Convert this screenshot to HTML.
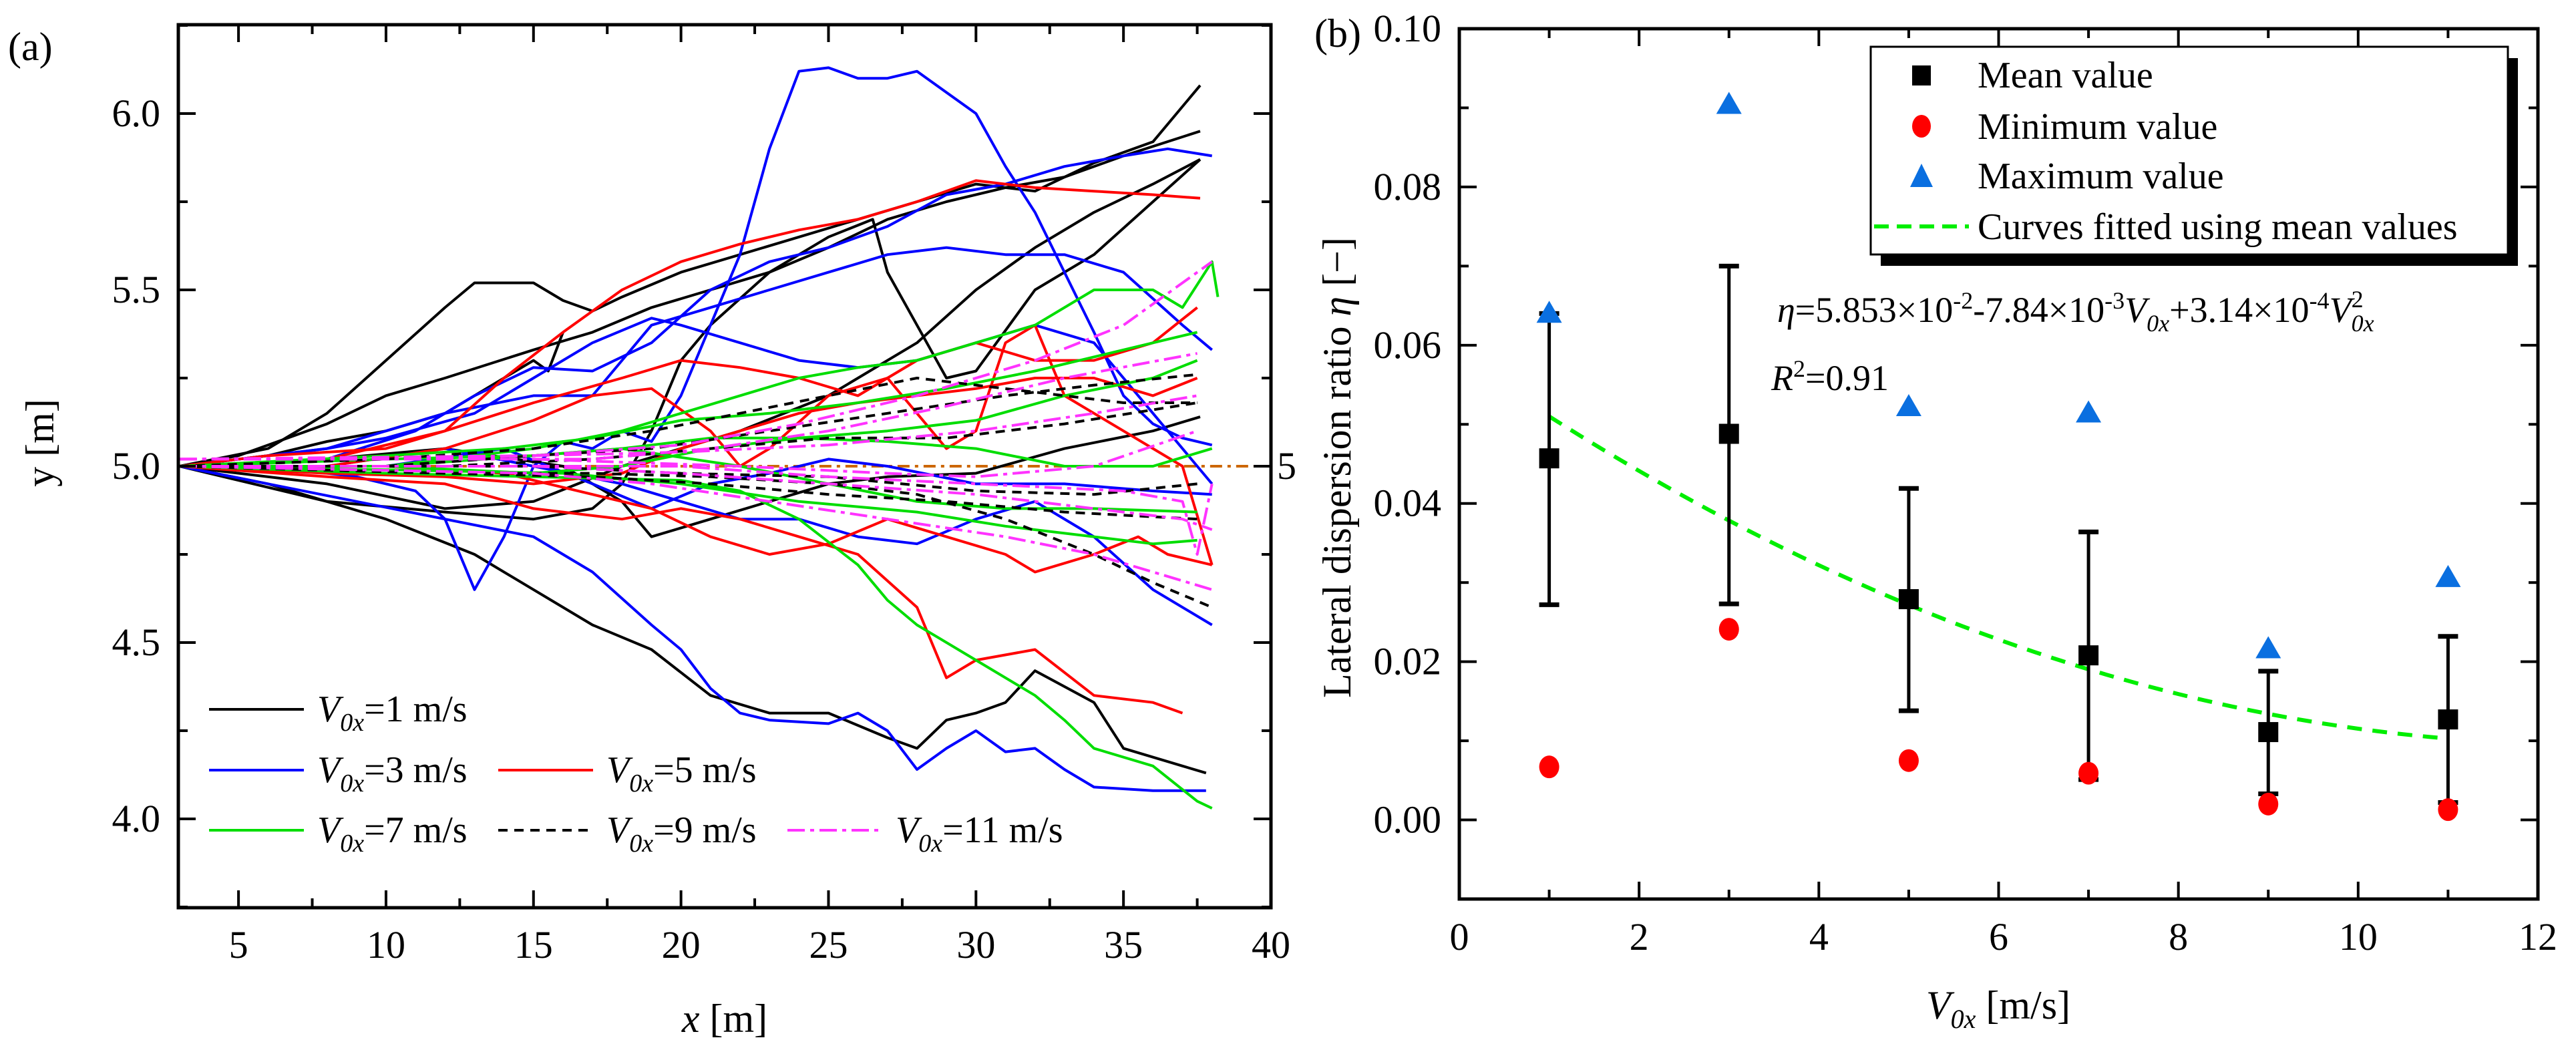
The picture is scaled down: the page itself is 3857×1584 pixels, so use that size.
<!DOCTYPE html>
<html><head><meta charset="utf-8"><style>
html,body{margin:0;padding:0;background:#fff;}
svg{display:block;}
svg text{font-family:"Liberation Serif","Times New Roman",serif;}
</style></head><body>
<svg id="fig" width="3857" height="1584" viewBox="0 0 3857 1584" xmlns="http://www.w3.org/2000/svg" font-family="Liberation Serif, serif">
<rect width="3857" height="1584" fill="#fff"/>
<g id="pa"></g>
<g id="pb"></g>
</svg>
<script>
// ---------- Panel (a) data ----------
const seriesLabels = ["1","3","5","7","9","11"];
const seriesColors = ["#000","#0000ff","#ff0000","#00dd00","#000","#ff33ff"];
const seriesDash = ["", "", "", "", "14,10", "26,8,6,8"];
const trajV1 = [
 [[3,5],[6,5.05],[8,5.15],[10,5.3],[12,5.45],[13,5.52],[15,5.52],[16,5.47],[17,5.44],[18,5.48],[20,5.55],[22,5.6],[24,5.65],[26,5.7],[28,5.75],[30,5.8],[32,5.78],[34,5.86],[36,5.92],[36.8,6.0],[37.6,6.08]],
 [[3,5],[5,5.03],[8,5.12],[10,5.2],[12,5.25],[15,5.33],[17,5.38],[19,5.45],[21,5.5],[23,5.55],[25,5.62],[27,5.7],[29,5.75],[31,5.79],[33,5.82],[35,5.88],[37.6,5.95]],
 [[3,5],[6,5.03],[8,5.07],[10,5.1],[12,5.15],[14,5.25],[15,5.3],[15.5,5.27],[16,5.38]],
 [[3,5],[8,4.9],[12,4.87],[15,4.85],[17,4.88],[18,4.95],[19,5.1],[20,5.3],[21,5.4],[23,5.55],[25,5.65],[26.5,5.7],[27,5.55],[28,5.4],[29,5.25],[30,5.27],[32,5.5],[34,5.6],[36,5.75],[37.6,5.87]],
 [[3,5],[8,4.95],[12,4.88],[15,4.9],[18,5.0],[20,5.05],[22,5.1],[25,5.2],[28,5.35],[30,5.5],[32,5.62],[34,5.72],[36,5.8],[37.6,5.87]],
 [[3,5],[6,4.95],[10,4.85],[13,4.75],[15,4.65],[17,4.55],[19,4.48],[21,4.35],[23,4.3],[25,4.3],[27,4.23],[28,4.2],[29,4.28],[30,4.3],[31,4.33],[32,4.42],[34,4.33],[35,4.2],[37,4.15],[37.8,4.13]],
 [[3,5],[8,5.02],[12,5.05],[16,5.0],[18,4.9],[19,4.8],[21,4.85],[23,4.9],[25,4.95],[27,4.97],[30,4.98],[33,5.05],[36,5.1],[37.6,5.14]]
];
const trajV3 = [
 [[3,5],[6,5.0],[9,4.97],[11,4.93],[12,4.85],[13,4.65],[14,4.8],[15,5.0],[16,5.07],[17,5.05],[18,5.1],[19,5.07],[20,5.2],[21,5.4],[22,5.6],[23,5.9],[24,6.12],[25,6.13],[26,6.1],[27,6.1],[28,6.12],[29,6.06],[30,6.0],[31,5.85],[32,5.72],[33,5.55],[34,5.38],[35,5.2],[36,5.12],[37,5.08],[38,5.06]],
 [[3,5],[8,5.05],[10,5.1],[12,5.15],[15,5.2],[17,5.2],[18,5.3],[19,5.4],[21,5.45],[23,5.5],[25,5.55],[27,5.6],[29,5.62],[31,5.6],[33,5.6],[35,5.55],[37,5.4],[38,5.33]],
 [[3,5],[8,5.02],[11,5.1],[13,5.2],[15,5.28],[17,5.27],[19,5.35],[21,5.5],[23,5.58],[25,5.62],[27,5.68],[29,5.77],[31,5.8],[33,5.85],[35,5.88],[36.5,5.9],[38,5.88]],
 [[3,5],[8,5.05],[10,5.08],[13,5.15],[15,5.25],[17,5.35],[19,5.42],[20,5.4],[22,5.35],[24,5.3],[26,5.28],[28,5.3],[30,5.35],[32,5.4],[34,5.35],[36,5.15],[38,4.95]],
 [[3,5],[6,4.95],[9,4.9],[12,4.85],[15,4.8],[17,4.7],[19,4.55],[20,4.48],[21,4.37],[22,4.3],[23,4.28],[25,4.27],[26,4.3],[27,4.25],[28,4.14],[29,4.2],[30,4.25],[31,4.19],[32,4.2],[33,4.14],[34,4.09],[36,4.08],[37.8,4.08]],
 [[3,5],[8,5.0],[12,5.05],[15,5.0],[18,4.95],[20,4.9],[22,4.85],[24,4.85],[26,4.8],[28,4.78],[30,4.85],[32,4.9],[34,4.8],[36,4.65],[38,4.55]],
 [[3,5],[10,5.0],[14,5.05],[17,4.95],[19,4.88],[21,4.95],[23,4.98],[25,5.02],[27,5.0],[30,4.95],[33,4.95],[36,4.93],[38,4.92]]
];
const trajV5 = [
 [[3,5],[6,5.03],[10,5.05],[12,5.1],[14,5.25],[16,5.38],[18,5.5],[20,5.58],[22,5.63],[24,5.67],[26,5.7],[28,5.75],[30,5.81],[32,5.79],[34,5.78],[36,5.77],[37.6,5.76]],
 [[3,5],[8,5.02],[12,5.1],[15,5.18],[18,5.25],[20,5.3],[22,5.28],[24,5.25],[26,5.2],[28,5.3],[30,5.35],[32,5.3],[34,5.3],[36,5.35],[37.5,5.45]],
 [[3,5],[8,5.0],[12,5.05],[15,5.13],[17,5.2],[19,5.22],[21,5.1],[22,5.0],[23,5.05],[25,5.2],[27,5.25],[28,5.15],[29,5.05],[30,5.1],[31,5.35],[32,5.4],[33,5.2],[35,5.1],[37,5.0],[38,4.72]],
 [[3,5],[8,4.97],[12,4.95],[15,4.88],[18,4.85],[20,4.88],[22,4.85],[24,4.8],[26,4.75],[28,4.6],[29,4.4],[30,4.45],[32,4.48],[34,4.35],[36,4.33],[37,4.3]],
 [[3,5],[8,4.98],[12,4.97],[15,4.95],[18,4.98],[20,5.05],[22,5.1],[24,5.15],[26,5.18],[28,5.2],[30,5.22],[32,5.25],[34,5.25],[36,5.2],[37.5,5.25]],
 [[3,5],[10,5.0],[14,4.98],[17,4.92],[19,4.88],[21,4.8],[23,4.75],[25,4.78],[27,4.85],[29,4.8],[31,4.75],[32,4.7],[34,4.75],[35.5,4.8],[36.5,4.75],[38,4.72]]
];
const trajV7 = [
 [[3,5],[10,5.0],[15,5.05],[18,5.1],[20,5.15],[22,5.2],[24,5.25],[26,5.28],[28,5.3],[30,5.35],[32,5.4],[34,5.5],[36,5.5],[37,5.45],[38,5.58],[38.2,5.48]],
 [[3,5],[10,5.03],[14,5.05],[17,5.08],[20,5.13],[23,5.15],[26,5.18],[29,5.22],[32,5.27],[35,5.33],[37.5,5.38]],
 [[3,5],[10,5.02],[15,5.03],[18,5.05],[21,5.08],[24,5.08],[27,5.1],[30,5.13],[33,5.2],[36,5.25],[37.5,5.3]],
 [[3,5],[10,5.0],[15,4.98],[18,5.0],[21,5.05],[24,5.08],[27,5.07],[30,5.05],[33,5.0],[36,5.0],[38,5.05]],
 [[3,5],[10,4.98],[15,4.97],[20,4.96],[22,4.93],[24,4.85],[26,4.72],[27,4.62],[28,4.55],[30,4.45],[32,4.35],[33,4.28],[34,4.2],[36,4.15],[37.5,4.05],[38,4.03]],
 [[3,5],[10,5.0],[15,5.03],[18,5.05],[22,5.0],[25,4.95],[28,4.9],[31,4.88],[34,4.88],[37.5,4.87]],
 [[3,5],[10,4.99],[16,4.98],[20,4.95],[24,4.9],[28,4.87],[31,4.83],[34,4.8],[36,4.78],[37.5,4.79]]
];
const trajV9 = [
 [[3,5],[10,5.02],[15,5.05],[19,5.1],[22,5.15],[25,5.2],[28,5.25],[30,5.23],[33,5.2],[35,5.18],[37.5,5.18]],
 [[3,5],[10,5.0],[15,5.03],[19,5.05],[23,5.1],[27,5.15],[31,5.2],[34,5.23],[37.5,5.26]],
 [[3,5],[12,5.0],[17,5.02],[21,5.05],[25,5.08],[29,5.08],[33,5.12],[37.5,5.18]],
 [[3,5],[12,4.98],[17,4.97],[21,4.95],[25,4.92],[29,4.9],[33,4.87],[37.5,4.85]],
 [[3,5],[12,4.98],[17,4.98],[21,4.97],[25,4.95],[28,4.92],[31,4.85],[34,4.75],[36,4.67],[38,4.6]],
 [[3,5],[15,5.0],[20,4.98],[25,4.97],[30,4.93],[34,4.92],[37.5,4.95]]
];
const trajV11 = [
 [[3,5.02],[10,5.02],[15,5.03],[20,5.06],[24,5.12],[28,5.2],[32,5.3],[35,5.4],[38,5.58]],
 [[3,5.02],[12,5.02],[17,5.02],[21,5.05],[25,5.1],[29,5.17],[33,5.25],[37.5,5.32]],
 [[3,5.02],[15,5.03],[20,5.04],[25,5.06],[30,5.1],[34,5.15],[37.5,5.2]],
 [[3,5.0],[15,5.0],[20,4.98],[25,4.95],[30,4.92],[34,4.88],[37,4.85],[38,4.82]],
 [[3,5.0],[15,4.98],[19,4.95],[23,4.9],[27,4.85],[31,4.8],[34,4.75],[38,4.65]],
 [[3,5.02],[15,5.02],[22,5.0],[27,4.98],[30,4.97],[34,5.0],[37.5,5.1]],
 [[3,5],[20,5.0],[25,4.97],[30,4.95],[35,4.93],[37,4.9],[37.5,4.75],[38,4.95]]
];
const allTraj = [trajV1,trajV3,trajV5,trajV7,trajV9,trajV11];
const xTicksA = [5,10,15,20,25,30,35,40];
const yTicksA = [4.0,4.5,5.0,5.5,6.0];
const refLineY = 5;

// ---------- Panel (b) data ----------
const speeds = [1,3,5,7,9,11];
const meanVals = [0.0457,0.0488,0.0279,0.0208,0.0111,0.0127];
const errUpper = [0.0640,0.0700,0.0419,0.0364,0.0188,0.0232];
const errLower = [0.0272,0.0273,0.0138,0.0051,0.0033,0.0022];
const minVals = [0.0067,0.0241,0.0075,0.0059,0.0020,0.0013];
const maxVals = [0.0641,0.0905,0.0523,0.0515,0.0217,0.0307];
const fitCoef = [5.853e-2,-7.84e-3,3.14e-4];
const xTicksB = [0,2,4,6,8,10,12];
const yTicksB = [0.00,0.02,0.04,0.06,0.08,0.10];

const NS="http://www.w3.org/2000/svg";
const FF="Liberation Serif, Times New Roman, serif";
function mk(parent,tag,attrs,text){const e=document.createElementNS(NS,tag);for(const k in attrs)e.setAttribute(k,attrs[k]);if(tag==='text')e.setAttribute('font-family',FF);if(text!==undefined)e.textContent=text;parent.appendChild(e);return e;}

// ===== Panel A =====
const pa=document.getElementById('pa');
const A={l:267,r:1903,t:37,b:1359,x0:2.96,x1:40,y0:3.748,y1:6.252};
const ax=v=>A.l+(v-A.x0)/(A.x1-A.x0)*(A.r-A.l);
const ay=v=>A.b-(v-A.y0)/(A.y1-A.y0)*(A.b-A.t);
const clipA=mk(pa,'clipPath',{id:'clipA'});mk(clipA,'rect',{x:A.l,y:A.t,width:A.r-A.l,height:A.b-A.t});
const linesG=mk(pa,'g',{'clip-path':'url(#clipA)'});


const ref=mk(linesG,'line',{x1:ax(3.5),x2:A.r,y1:ay(refLineY),y2:ay(refLineY),stroke:'#cc6600','stroke-width':4,'stroke-dasharray':'18,8,5,8'});


allTraj.forEach((set,si)=>{set.forEach((tr,ti)=>{
  const p=mk(linesG,'polyline',{points:tr.map(q=>ax(q[0]).toFixed(1)+','+ay(q[1]).toFixed(1)).join(' '),fill:'none',stroke:seriesColors[si],'stroke-width':4,'stroke-linejoin':'round'});
  if(seriesDash[si])p.setAttribute('stroke-dasharray',seriesDash[si]);
  
  
});});
const frA=mk(pa,'rect',{x:A.l,y:A.t,width:A.r-A.l,height:A.b-A.t,fill:'none',stroke:'#000','stroke-width':5});


for(let v=5;v<=40;v+=2.5){const X=ax(v);const L=(v%5===0)?26:14;
  mk(pa,'line',{x1:X,x2:X,y1:A.b,y2:A.b-L,stroke:'#000','stroke-width':4});
  mk(pa,'line',{x1:X,x2:X,y1:A.t,y2:A.t+L,stroke:'#000','stroke-width':4});}
for(let v=3.75;v<=6.26;v+=0.25){const Y=ay(v);const L=(Math.abs(v*2-Math.round(v*2))<1e-6)?26:14;
  mk(pa,'line',{x1:A.l,x2:A.l+L,y1:Y,y2:Y,stroke:'#000','stroke-width':4});
  mk(pa,'line',{x1:A.r,x2:A.r-L,y1:Y,y2:Y,stroke:'#000','stroke-width':4});}
xTicksA.forEach(v=>{const t=mk(pa,'text',{x:ax(v),y:1434,'font-size':58,'text-anchor':'middle'},String(v));
  
  });
yTicksA.forEach(v=>{const t=mk(pa,'text',{x:240,y:ay(v)+19,'font-size':58,'text-anchor':'end'},v.toFixed(1));
  
  });
const r5=mk(pa,'text',{x:1912,y:ay(5)+19,'font-size':58},'5');


const legPos=[[313,1062],[313,1153],[746,1153],[313,1243],[746,1243],[1179,1243]];
legPos.forEach((p,i)=>{const g=mk(pa,'g',{});
  
  
  const l=mk(g,'line',{x1:p[0],x2:p[0]+142,y1:p[1],y2:p[1],stroke:seriesColors[i],'stroke-width':4});
  if(seriesDash[i])l.setAttribute('stroke-dasharray',seriesDash[i]);
  const t=mk(g,'text',{x:p[0]+162,y:p[1]+18,'font-size':56});
  mk(t,'tspan',{'font-style':'italic'},'V');
  mk(t,'tspan',{'font-style':'italic','font-size':38,dy:14},'0x');
  mk(t,'tspan',{dy:-14},'='+seriesLabels[i]+' m/s');
});
const la=mk(pa,'text',{x:12,y:90,'font-size':60},'(a)');
const xta=mk(pa,'text',{x:1085,y:1545,'font-size':60,'text-anchor':'middle'});

mk(xta,'tspan',{'font-style':'italic'},'x');mk(xta,'tspan',{},' [m]');
const yta=mk(pa,'text',{x:0,y:0,'font-size':60,'text-anchor':'middle',transform:'translate(80,663) rotate(-90)'},'y [m]');


// ===== Panel B =====
const pb=document.getElementById('pb');
const B={l:2185,r:3800,t:43,b:1346,x0:0,x1:12,y0:-0.01,y1:0.10};
const bx=v=>B.l+(v-B.x0)/(B.x1-B.x0)*(B.r-B.l);
const by=v=>B.b-(v-B.y0)/(B.y1-B.y0)*(B.b-B.t);
const frB=mk(pb,'rect',{x:B.l,y:B.t,width:B.r-B.l,height:B.b-B.t,fill:'none',stroke:'#000','stroke-width':5});

for(let v=0;v<=12;v+=1){const X=bx(v);const L=(v%2===0)?26:14;
  mk(pb,'line',{x1:X,x2:X,y1:B.b,y2:B.b-L,stroke:'#000','stroke-width':4});
  mk(pb,'line',{x1:X,x2:X,y1:B.t,y2:B.t+L,stroke:'#000','stroke-width':4});}
for(let k=-1;k<=10;k++){const Y=by(k*0.01);const L=(k%2===0)?26:14;
  mk(pb,'line',{x1:B.l,x2:B.l+L,y1:Y,y2:Y,stroke:'#000','stroke-width':4});
  mk(pb,'line',{x1:B.r,x2:B.r-L,y1:Y,y2:Y,stroke:'#000','stroke-width':4});}
xTicksB.forEach(v=>{const t=mk(pb,'text',{x:bx(v),y:1422,'font-size':58,'text-anchor':'middle'},String(v));
  });
yTicksB.forEach(v=>{const t=mk(pb,'text',{x:2158,y:by(v)+19,'font-size':58,'text-anchor':'end'},v.toFixed(2));
  });
let fp=[];for(let i=0;i<=50;i++){const v=speeds[0]+(speeds[speeds.length-1]-speeds[0])*i/50;const e=fitCoef[0]+fitCoef[1]*v+fitCoef[2]*v*v;fp.push(bx(v).toFixed(1)+','+by(e).toFixed(1));}
const fit=mk(pb,'polyline',{points:fp.join(' '),fill:'none',stroke:'#00ee00','stroke-width':6,'stroke-dasharray':'22,16'});

speeds.forEach((s,i)=>{const X=bx(s);
  const g=mk(pb,'g',{});
  mk(g,'line',{x1:X,x2:X,y1:by(errUpper[i]),y2:by(errLower[i]),stroke:'#000','stroke-width':5});
  mk(g,'line',{x1:X-15,x2:X+15,y1:by(errUpper[i]),y2:by(errUpper[i]),stroke:'#000','stroke-width':7});
  mk(g,'line',{x1:X-15,x2:X+15,y1:by(errLower[i]),y2:by(errLower[i]),stroke:'#000','stroke-width':7});
  const c=mk(pb,'ellipse',{cx:X,cy:by(minVals[i]),rx:15,ry:17,fill:'#ff0000'});
  
  const Y=by(maxVals[i]);
  const t=mk(pb,'polygon',{points:`${X},${Y-18} ${X-19},${Y+15} ${X+19},${Y+15}`,fill:'#0a6fe0'});
  
  const m=mk(pb,'rect',{x:X-15,y:by(meanVals[i])-15,width:30,height:30,fill:'#000'});
  
});
const lg=mk(pb,'g',{});
mk(lg,'rect',{x:2816,y:87,width:954,height:311,fill:'#000'});
mk(lg,'rect',{x:2801,y:70,width:954,height:311,fill:'#fff',stroke:'#000','stroke-width':3});
mk(lg,'rect',{x:2863,y:98,width:28,height:30,fill:'#000'});
mk(lg,'ellipse',{cx:2877,cy:189,rx:14,ry:17,fill:'#ff0000'});
mk(lg,'polygon',{points:'2877,245 2860,280 2894,280',fill:'#0a6fe0'});
mk(lg,'line',{x1:2806,x2:2948,y1:339,y2:339,stroke:'#00ee00','stroke-width':6,'stroke-dasharray':'22,12'});
const legTexts=[['Mean value',112],['Minimum value',189],['Maximum value',263],['Curves fitted using mean values',339]];
legTexts.forEach(q=>{const t=mk(lg,'text',{x:2961,y:q[1]+19,'font-size':56},q[0]);
  });
const eq=mk(pb,'text',{x:2661,y:482,'font-size':54});
mk(eq,'tspan',{'font-style':'italic'},'η');mk(eq,'tspan',{},'=5.853×10');mk(eq,'tspan',{'font-size':36,dy:-20},'-2');
mk(eq,'tspan',{dy:20},'-7.84×10');mk(eq,'tspan',{'font-size':36,dy:-20},'-3');
mk(eq,'tspan',{'font-style':'italic',dy:20},'V');mk(eq,'tspan',{'font-style':'italic','font-size':36,dy:14},'0x');
mk(eq,'tspan',{dy:-14},'+3.14×10');mk(eq,'tspan',{'font-size':36,dy:-20},'-4');
mk(eq,'tspan',{'font-style':'italic',dy:20},'V');mk(eq,'tspan',{'font-size':36,dy:-22},'2');
mk(eq,'tspan',{'font-style':'italic','font-size':36,dx:-18,dy:36},'0x');
const r2=mk(pb,'text',{x:2652,y:584,'font-size':54});
mk(r2,'tspan',{'font-style':'italic'},'R');mk(r2,'tspan',{'font-size':36,dy:-20},'2');mk(r2,'tspan',{dy:20},'=0.91');
const lb=mk(pb,'text',{x:1968,y:70,'font-size':60},'(b)');
const xtb=mk(pb,'text',{x:2992,y:1525,'font-size':60,'text-anchor':'middle'});
mk(xtb,'tspan',{'font-style':'italic'},'V');mk(xtb,'tspan',{'font-style':'italic','font-size':40,dy:14},'0x');mk(xtb,'tspan',{dy:-14},' [m/s]');
const ytb=mk(pb,'text',{x:0,y:0,'font-size':60,'text-anchor':'middle',transform:'translate(2022,700) rotate(-90)'});

mk(ytb,'tspan',{},'Lateral dispersion ratio ');mk(ytb,'tspan',{'font-style':'italic'},'η');mk(ytb,'tspan',{},' [−]');
</script>
</body></html>
